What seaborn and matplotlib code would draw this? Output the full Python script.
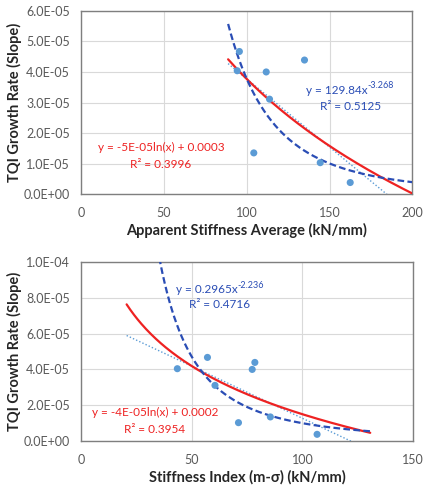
import numpy as np
import pandas as pd
import matplotlib
matplotlib.use("Agg")
import matplotlib.pyplot as plt
import seaborn as sns

# TQI growth rate (slope) for each section
tqi_slope = [4.67e-05, 4.04e-05, 4.00e-05, 4.39e-05, 3.11e-05, 1.35e-05, 1.03e-05, 0.38e-05]

# Apparent stiffness average (kN/mm)
stiff_avg = [95.6, 94.3, 111.8, 134.9, 113.8, 104.3, 144.4, 162.5]

# Stiffness index (m - sigma) (kN/mm)
stiff_idx = [57.1, 43.5, 77.3, 78.5, 60.5, 85.5, 71.1, 106.6]

# power trendline coefficients as printed on the chart
pow_top = (129.84, -3.268)
pow_bot = (0.2965, -2.236)

# trendline x ranges (with forecast)
trend_top = (88.8, 200)
trend_bot = (20.6, 130.6)

sns.set_theme(style="whitegrid")
plt.rcParams["font.family"] = ["Lato", "DejaVu Sans"]

point_col = "#5B9BD5"
red = "#EE2222"
dark_blue = "#2A4DB5"
grey_txt = "#595959"


def draw(ax, x, y, xr, pw, xlim, ylim, xticks, yticks, ytick_lbls, xlabel):
    x = np.array(x)
    y = np.array(y)
    xs = np.linspace(xr[0], xr[1], 200)

    # linear trend (light dotted)
    lin = np.polyfit(x, y, 1)
    sns.lineplot(x=xs, y=np.polyval(lin, xs), ax=ax, color=point_col,
                 lw=1.0, linestyle=(0, (1, 1.5)), zorder=2)
    # log trend (red)
    lg = np.polyfit(np.log(x), y, 1)
    sns.lineplot(x=xs, y=lg[0] * np.log(xs) + lg[1], ax=ax, color=red,
                 lw=1.6, zorder=3)
    # power trend (blue dashed)
    sns.lineplot(x=xs, y=pw[0] * xs ** pw[1], ax=ax, color=dark_blue,
                 lw=1.6, linestyle=(0, (3, 1.5)), zorder=4)

    sns.scatterplot(x=x, y=y, ax=ax, color=point_col, s=26,
                    edgecolor="none", zorder=5)

    ax.set_xlim(*xlim)
    ax.set_ylim(*ylim)
    ax.set_xticks(xticks)
    ax.set_yticks(yticks)
    ax.set_yticklabels(ytick_lbls)
    ax.tick_params(axis="both", labelsize=9, colors=grey_txt, length=0)
    ax.tick_params(axis="y", pad=8)
    ax.tick_params(axis="x", pad=9)
    ax.grid(color="#D9D9D9", lw=0.8)
    for s in ax.spines.values():
        s.set_color("#7F7F7F")
        s.set_linewidth(1.0)
    ax.set_xlabel(xlabel, fontsize=10.5, fontweight="bold", color="#262626", labelpad=3)
    ax.set_ylabel("TQI Growth Rate (Slope)", fontsize=10.5, fontweight="bold",
                  color="#262626", labelpad=1)


def eq_text(x, y, base, sup, color):
    # equation with a raised exponent, centred at (x, y) in pixels
    t = fig.text(x / 432, 1 - y / 494, base, color=color, fontsize=8.5,
                 ha="right", va="center")
    s = fig.text(x / 432, 1 - y / 494, sup, color=color, fontsize=6.5,
                 ha="left", va="center")
    fig.canvas.draw()
    w1 = t.get_window_extent().width
    w2 = s.get_window_extent().width
    shift = (w1 - w2) / 2 / 432
    t.set_position((x / 432 + shift, 1 - y / 494))
    s.set_position((x / 432 + shift, 1 - (y - 4) / 494))


fig = plt.figure(figsize=(4.32, 4.94), dpi=100)
ax1 = fig.add_axes([0.1875, 0.607, 0.767, 0.371])
ax2 = fig.add_axes([0.1875, 0.107, 0.769, 0.363])

draw(ax1, stiff_avg, tqi_slope, trend_top, pow_top, (0, 200), (0, 6e-05),
     [0, 50, 100, 150, 200], np.arange(0, 6.1e-05, 1e-05),
     ["0.0E+00", "1.0E-05", "2.0E-05", "3.0E-05", "4.0E-05", "5.0E-05", "6.0E-05"],
     "Apparent Stiffness Average (kN/mm)")

draw(ax2, stiff_idx, tqi_slope, trend_bot, pow_bot, (0, 150), (0, 1e-04),
     [0, 50, 100, 150], np.arange(0, 1.01e-04, 2e-05),
     ["0.0E+00", "2.0E-05", "4.0E-05", "6.0E-05", "8.0E-05", "1.0E-04"],
     "Stiffness Index (m-\u03c3) (kN/mm)")

# trendline equations
fig.text(161 / 432, 1 - 147 / 494, "y = -5E-05ln(x) + 0.0003", color=red,
         fontsize=8.5, ha="center", va="center")
fig.text(161 / 432, 1 - 164 / 494, "R\u00b2 = 0.3996", color=red,
         fontsize=8.5, ha="center", va="center")
eq_text(350, 90, "y = 129.84x", "-3.268", dark_blue)
fig.text(351 / 432, 1 - 107 / 494, "R\u00b2 = 0.5125", color=dark_blue,
         fontsize=8.5, ha="center", va="center")

eq_text(220, 289, "y = 0.2965x", "-2.236", dark_blue)
fig.text(220 / 432, 1 - 305 / 494, "R\u00b2 = 0.4716", color=dark_blue,
         fontsize=8.5, ha="center", va="center")
fig.text(155 / 432, 1 - 412.5 / 494, "y = -4E-05ln(x) + 0.0002", color=red,
         fontsize=8.5, ha="center", va="center")
fig.text(155 / 432, 1 - 429 / 494, "R\u00b2 = 0.3954", color=red,
         fontsize=8.5, ha="center", va="center")

fig.savefig("out.png", dpi=100, facecolor="white")
